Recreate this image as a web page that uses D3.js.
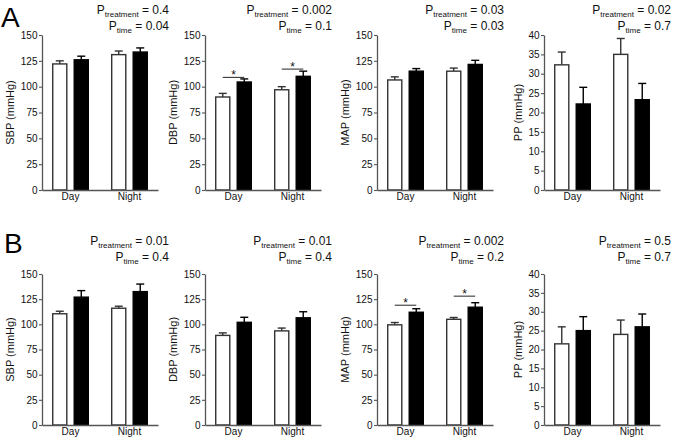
<!DOCTYPE html>
<html>
<head>
<meta charset="utf-8">
<script src="https://cdn.jsdelivr.net/npm/d3@7"></script>
<style>
  html, body { margin: 0; padding: 0; background: #fff; }
  svg { display: block; font-family: "Liberation Sans", Arial, Helvetica, sans-serif; }
</style>
</head>
<body>
<svg id="chart" width="675" height="440"></svg>
<script>
// ---------------- DATA ----------------
const rowLabels = ["A", "B"];
const measures = ["SBP", "DBP", "MAP", "PP"];
const groups = ["Day", "Night"];
const treatments = ["control", "treated"];
const yMaxes = [150, 150, 150, 40];
const ticks150 = [0, 25, 50, 75, 100, 125, 150];
const ticks40 = [0, 5, 10, 15, 20, 25, 30, 35, 40];

// means[measure][group]  (white = control, black = treated)
const A_control = [[122, 131], [90, 97], [106.5, 115], [32.3, 35]];
const A_control_sem = [[3, 3.5], [3.5, 3], [3, 3], [3.3, 4.1]];
const A_treated = [[126, 133.5], [104.5, 110], [115, 121.5], [22.2, 23.3]];
const A_treated_sem = [[3.5, 4], [3, 5], [2.5, 4], [4.3, 4.2]];

const B_control = [[110.5, 116], [89, 93.5], [99.5, 105], [21.5, 24]];
const B_control_sem = [[2.5, 2], [2.5, 2.8], [2.3, 1.8], [4.5, 3.8]];
const B_treated = [[127, 132.5], [102, 106.5], [112, 117], [25, 26]];
const B_treated_sem = [[6.5, 7.5], [5, 6], [3.5, 4.5], [3.7, 3.4]];

const A_pTreatment = ["0.4", "0.002", "0.03", "0.02"];
const A_pTime = ["0.04", "0.1", "0.03", "0.7"];
const B_pTreatment = ["0.01", "0.01", "0.002", "0.5"];
const B_pTime = ["0.4", "0.4", "0.2", "0.7"];

// significance brackets: row, measure index, group, level (mmHg)
const sigRow = ["A", "A", "B", "B"];
const sigMeasure = [1, 1, 2, 2];
const sigGroup = ["Day", "Night", "Day", "Night"];
const sigLevel = [109, 117, 119, 128];

// ---------------- LAYOUT ----------------
const rowData = {
  A: { mean: [A_control, A_treated], sem: [A_control_sem, A_treated_sem], pTr: A_pTreatment, pTi: A_pTime },
  B: { mean: [B_control, B_treated], sem: [B_control_sem, B_treated_sem], pTr: B_pTreatment, pTi: B_pTime }
};
const colX = [42, 205, 377, 544];
const plotW = 116;
const rowGeom = {
  A: { top: 35, bottom: 190, letterX: 1, letterY: 27, p1: 14, p2: 30 },
  B: { top: 274, bottom: 425, letterX: 4, letterY: 253, p1: 245, p2: 261 }
};
const axisColor = "#555";

const svg = d3.select("#chart");

rowLabels.forEach((r, ri) => {
  const geo = rowGeom[r];
  const rd = rowData[r];

  svg.append("text")
    .attr("x", geo.letterX)
    .attr("y", geo.letterY)
    .attr("font-size", 28)
    .attr("fill", "#000")
    .text(r);

  measures.forEach((m, c) => {
    const g = svg.append("g").attr("transform", `translate(${colX[c]},0)`);
    const y = d3.scaleLinear().domain([0, yMaxes[c]]).range([geo.bottom, geo.top]);
    const x0 = d3.scaleBand().domain(groups).range([0, plotW]).paddingInner(0.373).paddingOuter(0.17);
    const x1 = d3.scaleBand().domain(treatments).range([0, x0.bandwidth()]).paddingInner(0.28);

    // bars
    groups.forEach((grp, gi) => {
      treatments.forEach((t, ti) => {
        const mean = rd.mean[ti][c][gi];
        const sem = rd.sem[ti][c][gi];
        const bx = x0(grp) + x1(t);
        const bw = x1.bandwidth();
        const col = ti === 0 ? "#333" : "#000";
        const cx = bx + bw / 2;
        g.append("line")
          .attr("x1", cx).attr("x2", cx)
          .attr("y1", y(mean)).attr("y2", y(mean + sem))
          .attr("stroke", col).attr("stroke-width", 1.4);
        g.append("line")
          .attr("x1", cx - 4).attr("x2", cx + 4)
          .attr("y1", y(mean + sem)).attr("y2", y(mean + sem))
          .attr("stroke", col).attr("stroke-width", 1.4);
        g.append("rect")
          .attr("x", bx + 0.7)
          .attr("y", y(mean))
          .attr("width", bw - 1.4)
          .attr("height", y(0) - y(mean))
          .attr("fill", ti === 0 ? "#fff" : "#000")
          .attr("stroke", col)
          .attr("stroke-width", 1.4);
      });
    });

    // y axis
    const yAxis = d3.axisLeft(y)
      .tickValues(yMaxes[c] === 40 ? ticks40 : ticks150)
      .tickSize(3).tickSizeOuter(0).tickPadding(1.5);
    const ya = g.append("g").call(yAxis);
    ya.select(".domain").attr("stroke", axisColor).attr("stroke-width", 1.3);
    ya.selectAll(".tick line").attr("stroke", axisColor).attr("stroke-width", 1.1);
    ya.selectAll(".tick text").attr("font-size", 10).attr("fill", "#111")
      .attr("font-family", "Liberation Sans, Arial, sans-serif");

    // x axis
    const xAxis = d3.axisBottom(x0).tickSize(0).tickSizeOuter(0).tickPadding(3);
    const xa = g.append("g").attr("transform", `translate(0,${y(0)})`).call(xAxis);
    xa.select(".domain").attr("stroke", axisColor).attr("stroke-width", 1.3);
    xa.selectAll(".tick text").attr("font-size", 10).attr("fill", "#111")
      .attr("font-family", "Liberation Sans, Arial, sans-serif");

    // y title
    let minX = 0;
    ya.selectAll(".tick text").each(function () {
      const b = this.getBBox();
      const tx = -3 - 1.5 - b.width;
      if (tx < minX) minX = tx;
    });
    const midY = (geo.top + geo.bottom) / 2;
    g.append("text")
      .attr("transform", `translate(${minX - 10},${midY}) rotate(-90)`)
      .attr("text-anchor", "middle")
      .attr("dy", "0.35em")
      .attr("font-size", 11)
      .attr("fill", "#111")
      .text(m + " (mmHg)");

    // p-values
    const pRight = plotW + 11;
    const addP = (yy, sub, val) => {
      const t = g.append("text")
        .attr("x", pRight).attr("y", yy)
        .attr("text-anchor", "end")
        .attr("font-size", 12).attr("fill", "#111");
      t.append("tspan").text("P");
      t.append("tspan").attr("font-size", 8).attr("dy", 2.5).text(sub);
      t.append("tspan").attr("dy", -2.5).text(" = " + val);
    };
    addP(geo.p1, "treatment", rd.pTr[c]);
    addP(geo.p2, "time", rd.pTi[c]);

    // significance marks
    sigRow.forEach((sr, si) => {
      if (sr !== r || sigMeasure[si] !== c) return;
      const grp = sigGroup[si];
      const xa1 = x0(grp) + x1("control") + x1.bandwidth() / 2;
      const xa2 = x0(grp) + x1("treated") + x1.bandwidth() / 2;
      const ly = y(sigLevel[si]);
      g.append("line")
        .attr("x1", xa1).attr("x2", xa2)
        .attr("y1", ly).attr("y2", ly)
        .attr("stroke", "#222").attr("stroke-width", 1);
      g.append("text")
        .attr("x", (xa1 + xa2) / 2).attr("y", ly + 1.5)
        .attr("text-anchor", "middle")
        .attr("font-size", 12).attr("fill", "#111")
        .text("*");
    });
  });
});
</script>
</body>
</html>
